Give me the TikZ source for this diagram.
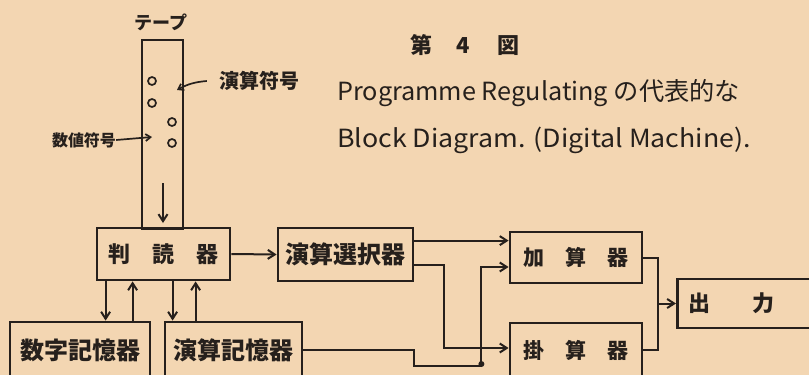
\documentclass[tikz,border=0pt]{standalone}
\usepackage{fontspec}
\setmainfont{Noto Sans CJK JP}
\usetikzlibrary{arrows.meta,calc}
\definecolor{paper}{RGB}{243,214,178}
\definecolor{ink}{RGB}{38,32,28}
\tikzset{
  box/.style={draw=ink, line width=2.8pt, inner sep=0pt, text=ink},
  conn/.style={draw=ink, line width=2pt},
  arr/.style={conn, -{Straight Barb[length=7pt,width=9pt]}},
  thinarr/.style={draw=ink, line width=1.7pt, -{Straight Barb[length=5pt,width=7pt]}},
  hole/.style={circle, draw=ink, line width=1.7pt, minimum width=7pt, minimum height=8pt, inner sep=0pt},
  jp/.style={font=\bfseries\fontsize{22}{26}\selectfont},
  jpbig/.style={font=\bfseries\fontsize{24}{28}\selectfont},
  lbl/.style={text=ink, inner sep=0pt},
}
\begin{document}
\begin{tikzpicture}[x=1pt,y=-1pt]
\useasboundingbox (0,0) rectangle (809,375);
\fill[paper] (0,0) rectangle (809,375);
\clip (0,0) rectangle (809,375);

% title
\node[lbl, font=\bfseries\fontsize{22}{26}\selectfont] (fig) at (465,45) {第\hspace{24pt}4\hspace{27pt}図};
\node[lbl, anchor=base west, font=\fontsize{25}{30}\selectfont] (t1) at (337,100) {\scalebox{1.01}[1]{Programme Regulating の代表的な}};
\node[lbl, anchor=base west, font=\fontsize{25}{30}\selectfont] (t2) at (337,147) {\scalebox{1.07}[1]{Block Diagram. (Digital Machine).}};

% tape
\node[lbl, font=\bfseries\fontsize{18}{21}\selectfont] (tapelbl) at (161,22) {テープ};
\node[box, minimum width=41pt, minimum height=189pt] (tape) at (162.5,134.5) {};
\node[hole] (h1) at (152,81) {};
\node[hole] (h2) at (152,103) {};
\node[hole] (h3) at (172,122) {};
\node[hole] (h4) at (172,143) {};
\coordinate (ta1) at (163,183);
\coordinate (ta2) at (163,223);
\draw[arr] (ta1) -- (ta2);

\node[lbl, font=\bfseries\fontsize{20}{24}\selectfont] (ops) at (259,81) {演算符号};
\coordinate (o1) at (177,90);
\draw[thinarr] ([xshift=-12pt]ops.west) to[bend right=12] (o1);
\node[lbl, font=\bfseries\fontsize{16}{20}\selectfont] (vals) at (84,140) {数値符号};
\coordinate (v1) at (152,137);
\draw[thinarr] (vals.east) -- (v1);

% boxes
\node[box, jp, minimum width=133pt, minimum height=52pt] (rd) at (163.5,254) {判　読　器};
\node[box, jpbig, minimum width=135pt, minimum height=53pt] (sel) at (345.5,254.5) {演算選択器};
\node[box, jpbig, minimum width=140pt, minimum height=56pt] (num) at (80,350) {数字記憶器};
\node[box, jpbig, minimum width=137pt, minimum height=56pt] (mem) at (233.5,350) {演算記憶器};
\node[box, font=\bfseries\fontsize{21}{25}\selectfont, minimum width=132pt, minimum height=51pt] (add) at (576,257.5) {加　算　器};
\node[box, font=\bfseries\fontsize{21}{25}\selectfont, minimum width=132pt, minimum height=54pt] (mul) at (576,350) {掛　算　器};
\node[box, jp, anchor=west, minimum height=49pt, text width=130pt, inner xsep=11pt, align=left] (out) at (676,303.5) {出\hspace{42pt}力};

% reader <-> memories
\draw[arr] ([xshift=10pt]rd.south west) -- ([xshift=10pt]rd.south west |- num.north);
\draw[arr] ([xshift=37pt]rd.south west |- num.north) -- ([xshift=37pt]rd.south west);
\draw[arr] ([xshift=77pt]rd.south west) -- ([xshift=77pt]rd.south west |- mem.north);
\draw[arr] ([xshift=100pt]rd.south west |- mem.north) -- ([xshift=100pt]rd.south west);

% reader -> selector
\draw[arr] (rd.east) -- (sel.west);

% selector -> adder / multiplier
\coordinate (s1) at ([yshift=-14pt]sel.north east);
\coordinate (s2) at ([yshift=-38pt]sel.north east);
\draw[arr] (s1) -- (s1 -| add.west);
\draw[arr] (s2) -| ([xshift=-65pt,yshift=2pt]mul.west) -- ([yshift=2pt]mul.west);

% operation memory -> adder
\draw[arr] (mem.east) -- ++(111,0) -- ++(0,16) -- ++(67,0) coordinate (jd) |- ([yshift=-9.5pt]add.west);
\fill[ink] (jd) ++(0,-2) circle (3pt);

% adder / multiplier -> output
\draw[conn] (add.east) -- ++(15,0) coordinate (k) |- (mul.east);
\draw[arr] (k |- out.west) -- (out.west);
\end{tikzpicture}
\end{document}
